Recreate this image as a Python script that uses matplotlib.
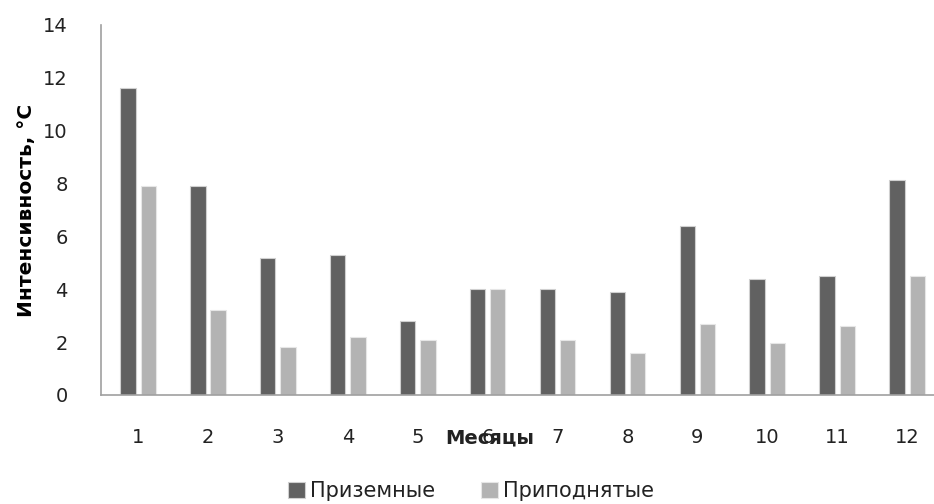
import matplotlib
matplotlib.use("Agg")
import matplotlib.pyplot as plt
import numpy as np

plt.rcParams["font.family"] = ["DejaVu Sans"]

months = [str(m) for m in range(1, 13)]
ground = [11.6, 7.9, 5.2, 5.3, 2.8, 4.0, 4.0, 3.9, 6.4, 4.4, 4.5, 8.15]
raised = [7.9, 3.2, 1.8, 2.2, 2.1, 4.0, 2.1, 1.6, 2.7, 1.95, 2.6, 4.5]
yticks = [0, 2, 4, 6, 8, 10, 12, 14]

W, H = 934, 504
fig = plt.figure(figsize=(W / 100, H / 100), dpi=100)
# axes spans past the right edge, like the cropped original
ax = fig.add_axes([101 / W, 1 - 395 / H, 839 / W, 370 / H])

x = np.arange(len(months))
bw, off = 0.22, 0.145
ax.bar(x - off, ground, bw, color="#616161", edgecolor="#d0d0d0", lw=0.8,
       label="Приземные")
ax.bar(x + off, raised, bw, color="#b3b3b3", edgecolor="#e6e6e6", lw=0.8,
       label="Приподнятые")

ax.set_xlim(-0.53, 11.47)
ax.set_ylim(0, 14)
ax.set_yticks(yticks)
ax.set_xticks(x)
ax.set_xticklabels(months)
ax.tick_params(length=0, labelsize=14, colors="#222222")
ax.tick_params(axis="y", pad=24)
ax.tick_params(axis="x", pad=24)
for s in ("top", "right"):
    ax.spines[s].set_visible(False)
for s in ("left", "bottom"):
    ax.spines[s].set_color("#a0a0a0")
    ax.spines[s].set_linewidth(1.2)

ax.set_ylabel("Интенсивность, °С", fontsize=14.5, fontweight="bold", labelpad=5)
fig.text(490 / W, 1 - 438 / H, "Месяцы", fontsize=14, fontweight="bold",
         ha="center", va="center", color="#222222")

fig.legend(loc="center", bbox_to_anchor=(471 / W, 1 - 491 / H), ncol=2,
           frameon=False, fontsize=15, handlelength=0.8, handleheight=0.8,
           handletextpad=0.25, columnspacing=2.2, labelcolor="#222222")

fig.savefig("out.png", dpi=100)
